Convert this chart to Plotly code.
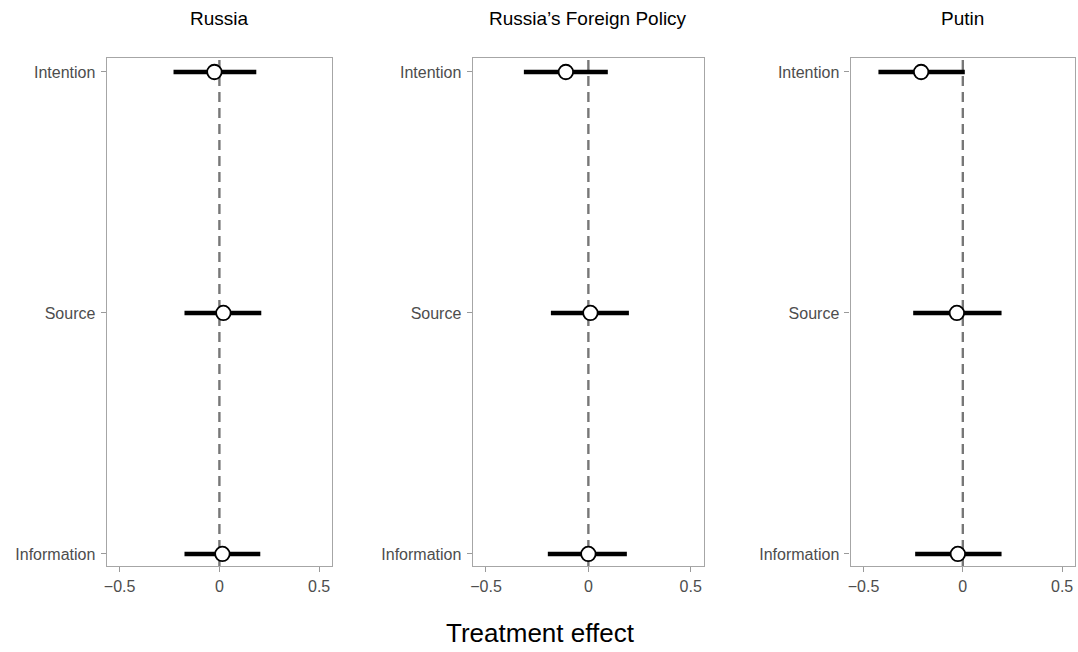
import plotly.graph_objects as go

# Estimates and 95% intervals for each treatment, per outcome
panels = ["Russia", "Russia\u2019s Foreign Policy", "Putin"]
treatments = ["Information", "Source", "Intention"]

estimate = {
    "Russia": [0.015, 0.02, -0.025],
    "Russia\u2019s Foreign Policy": [0.0, 0.01, -0.11],
    "Putin": [-0.025, -0.03, -0.21],
}
lower = {
    "Russia": [-0.175, -0.175, -0.23],
    "Russia\u2019s Foreign Policy": [-0.198, -0.183, -0.315],
    "Putin": [-0.24, -0.25, -0.425],
}
upper = {
    "Russia": [0.205, 0.21, 0.185],
    "Russia\u2019s Foreign Policy": [0.188, 0.198, 0.095],
    "Putin": [0.195, 0.195, 0.01],
}

x_ticks = [-0.5, 0, 0.5]
x_tick_text = ["\u22120.5", "0", "0.5"]

W, H = 1078, 652
top, bottom = 58, 86
domains = [(104 / W, 330 / W), (471 / W, 703 / W), (850 / W, 1075 / W)]

FONT = "Liberation Sans, Arial, Helvetica, sans-serif"
fig = go.Figure()

for i, name in enumerate(panels):
    n = "" if i == 0 else str(i + 1)
    xa, ya = "x" + n, "y" + n
    est = estimate[name]
    plus = [u - e for u, e in zip(upper[name], est)]
    minus = [e - l for e, l in zip(est, lower[name])]
    fig.add_trace(go.Scatter(
        x=est, y=treatments, xaxis=xa, yaxis=ya, mode="markers",
        marker=dict(size=14.5, color="white", line=dict(color="black", width=1.8)),
        error_x=dict(type="data", array=plus, arrayminus=minus, symmetric=False,
                     color="black", thickness=4.5, width=0),
        showlegend=False, hoverinfo="x+y",
    ))
    # dashed reference line at zero, drawn beneath the estimates
    fig.add_shape(type="line", xref=xa, yref=ya + " domain", x0=0, x1=0, y0=0, y1=1,
                  line=dict(color="#777777", width=2.4, dash="10px,6px"), layer="below")

    axis_x = dict(domain=list(domains[i]), range=[-0.565, 0.565], anchor=ya,
                  tickvals=x_ticks, ticktext=x_tick_text, ticks="outside", ticklen=5,
                  tickcolor="#9a9a9a", tickwidth=1, showgrid=False, zeroline=False,
                  showline=True, mirror=True, linecolor="#a6a6a6", linewidth=1.3,
                  ticklabelstandoff=1,
                  tickfont=dict(family=FONT, size=16, color="#4d4d4d"))
    axis_y = dict(domain=[0, 1], anchor=xa, type="category", categoryorder="array",
                  categoryarray=treatments, range=[-0.05, 2.058], ticks="outside",
                  ticklen=5, tickcolor="#9a9a9a", tickwidth=1, showgrid=False,
                  zeroline=False, showline=True, mirror=True, linecolor="#a6a6a6",
                  linewidth=1.3, ticklabelstandoff=2,
                  tickfont=dict(family=FONT, size=16, color="#4d4d4d"))
    fig.layout["xaxis" + n] = axis_x
    fig.layout["yaxis" + n] = axis_y

    fig.add_annotation(text=name, xref="paper", yref="paper",
                       x=(domains[i][0] + domains[i][1]) / 2, y=(H - bottom - 19) / (H - top - bottom),
                       showarrow=False, yanchor="middle", xanchor="center",
                       font=dict(family=FONT, size=19, color="black"))

fig.add_annotation(text="Treatment effect", xref="paper", yref="paper",
                   x=0.5, y=-(633 - (H - bottom)) / (H - top - bottom),
                   showarrow=False, yanchor="middle", xanchor="center",
                   font=dict(family=FONT, size=26, color="black"))

fig.update_layout(
    width=W, height=H, margin=dict(l=0, r=0, t=top, b=bottom),
    paper_bgcolor="white", plot_bgcolor="white",
)

fig.write_html("out.html")
